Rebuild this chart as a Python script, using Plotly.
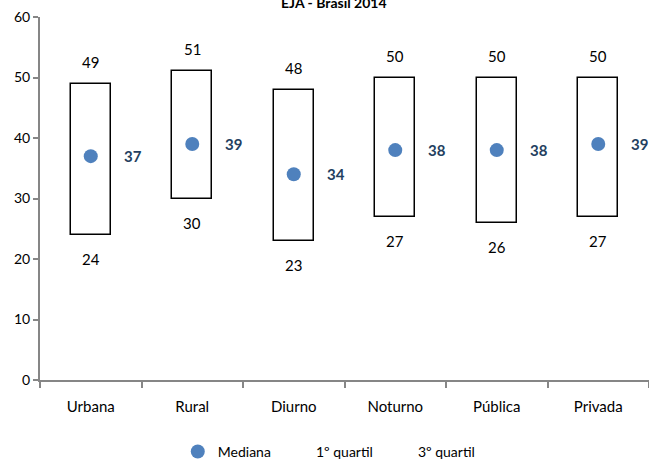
import plotly.graph_objects as go

categories = ["Urbana", "Rural", "Diurno", "Noturno", "Pública", "Privada"]
q1 = [24, 30, 23, 27, 26, 27]
mediana = [37, 39, 34, 38, 38, 39]
q3 = [49, 51, 48, 50, 50, 50]
title_text = "EJA - Brasil 2014"

FONT = "Lato"
fig = go.Figure()

fig.add_trace(go.Bar(
    x=categories, y=[b - a for a, b in zip(q1, q3)], base=q1, width=0.39,
    marker=dict(color="white", line=dict(color="black", width=1.5)),
    showlegend=False, hoverinfo="skip"))

fig.add_trace(go.Scatter(
    x=categories, y=mediana, mode="markers", name="Mediana",
    marker=dict(size=14, color="#4F81BD")))
fig.add_trace(go.Scatter(
    x=categories, y=q1, mode="markers", name="1º quartil",
    marker=dict(size=8, color="rgba(0,0,0,0)")))
fig.add_trace(go.Scatter(
    x=categories, y=q3, mode="markers", name="3º quartil",
    marker=dict(size=8, color="rgba(0,0,0,0)")))

ann = []
for c, a, m, b in zip(categories, q1, mediana, q3):
    ann.append(dict(x=c, y=b, text=str(b), showarrow=False, yshift=22,
                    font=dict(family=FONT, size=15, color="black")))
    ann.append(dict(x=c, y=a, text=str(a), showarrow=False, yshift=-24,
                    font=dict(family=FONT, size=15, color="black")))
    ann.append(dict(x=c, y=m, text="<b>%d</b>" % m, showarrow=False, xshift=31,
                    xanchor="left",
                    font=dict(family=FONT, size=15, color="#243F60")))
ann.append(dict(xref="paper", yref="paper", x=0.483, y=1, yshift=15,
                yanchor="middle", text="<b>%s</b>" % title_text, showarrow=False,
                font=dict(family=FONT, size=14, color="black")))

fig.update_layout(
    width=649, height=461,
    margin=dict(l=40, r=0, t=17, b=81, autoexpand=False),
    paper_bgcolor="white", plot_bgcolor="white",
    font=dict(family=FONT, size=14, color="black"),
    annotations=ann,
    bargap=0,
    legend=dict(orientation="h", x=0.475, xanchor="center", y=-0.198,
                yanchor="middle", font=dict(family=FONT, size=14)),
    xaxis=dict(range=[-0.5, 5.5], showline=True, linecolor="#868686", linewidth=2,
               ticks="outside", tickson="boundaries", ticklen=6, tickcolor="#868686",
               tickwidth=1.5, showgrid=False, zeroline=False, ticklabelstandoff=12,
               tickfont=dict(family=FONT, size=15)),
    yaxis=dict(range=[0, 60], dtick=10, showline=True, linecolor="#868686",
               linewidth=2, ticks="outside", ticklen=5, tickcolor="#868686",
               tickwidth=1.5, showgrid=False, zeroline=False,
               tickfont=dict(family=FONT, size=14)),
)

fig.write_html("out.html", config={"displayModeBar": False},
               post_script="document.body.style.margin='0';document.body.style.overflow='hidden';")
